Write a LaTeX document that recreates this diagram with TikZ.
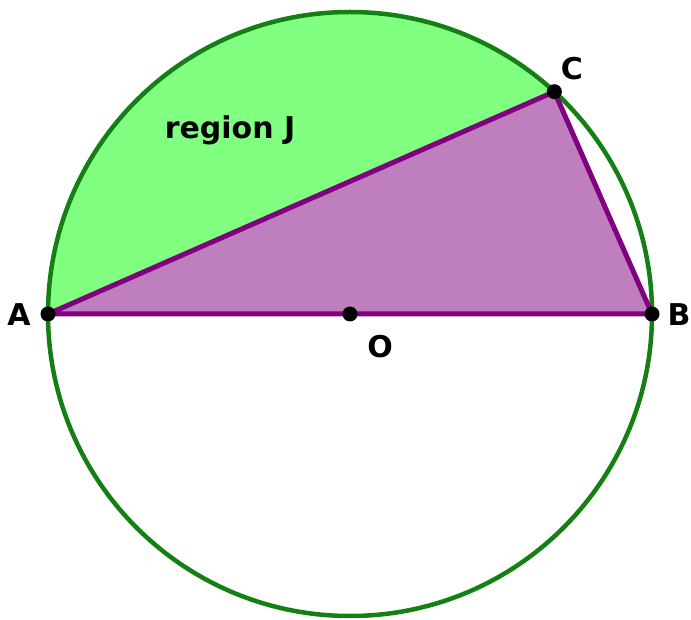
\documentclass[tikz,border=0pt]{standalone}
\usepackage{fontspec}
\setmainfont{DejaVu Sans}
\usetikzlibrary{calc}
\begin{document}
\begin{tikzpicture}[x=1pt,y=1pt,
  dot/.style={circle,fill=black,inner sep=0pt,minimum size=15pt},
  lbl/.style={font=\fontsize{30}{34}\selectfont\bfseries,text=black,inner sep=0pt},
  circ/.style={draw=cgreen,line width=4.5pt},
  tri/.style={draw=tline,line width=5pt,line join=round}]
\definecolor{jgreen}{RGB}{128,255,128}
\definecolor{tpurple}{RGB}{191,127,191}
\definecolor{tline}{RGB}{128,0,128}
\definecolor{cgreen}{RGB}{20,128,20}
\useasboundingbox (0,0) rectangle (691,619);
\coordinate (O) at (350,305);
\coordinate (A) at (48,305);
\coordinate (B) at (652,305);
\coordinate (C) at ($(O)+(47.41:302)$);
% region J
\fill[jgreen] (A) arc[start angle=180,end angle=47.41,radius=302] -- cycle;
% triangle
\fill[tpurple] (A) -- (B) -- (C) -- cycle;
% circle
\draw[circ] (O) circle[radius=302];
\draw[tri] (A) -- (B) -- (C) -- cycle;
% dots
\node[dot] (dA) at (A) {};
\node[dot] (dB) at (B) {};
\node[dot] (dC) at (C) {};
\node[dot] (dO) at (O) {};
% labels
\node[lbl] (lA) at (19,304) {A};
\node[lbl] (lB) at (679,304) {B};
\node[lbl] (lC) at (572,550) {C};
\node[lbl] (lO) at (380,272) {O};
\node[lbl] (lJ) at (230,489) {region J};
\end{tikzpicture}
\end{document}
